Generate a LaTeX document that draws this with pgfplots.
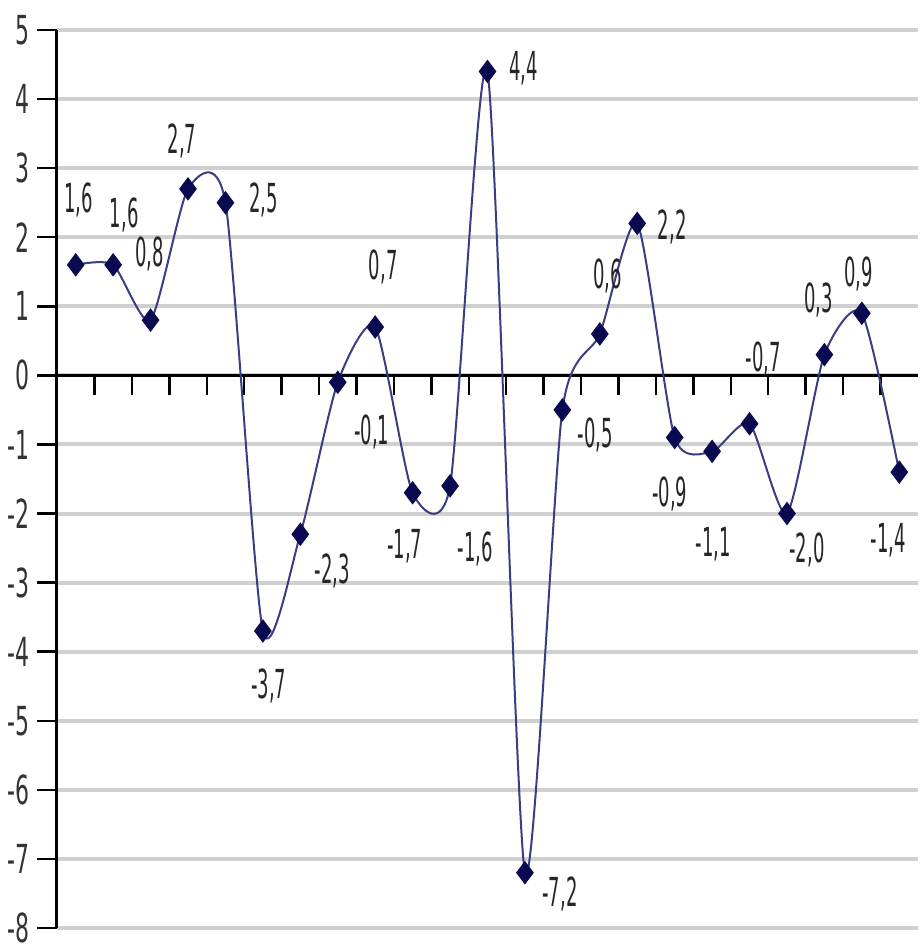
\documentclass[border=0pt]{standalone}
\usepackage{pgfplots}
\pgfplotsset{compat=1.18}
\usepackage{pgfplotstable}
\usepackage{fontspec}
\setmainfont{DejaVu Sans}
\newfontfamily\lblfont{DejaVu Sans}[FakeStretch=0.45]
\newfontfamily\tickfont{DejaVu Sans}[FakeStretch=0.55]

\definecolor{lineblue}{RGB}{60,60,130}
\definecolor{markblue}{RGB}{10,10,80}
\definecolor{gridgray}{RGB}{208,208,208}

% x, value, label offset (pt), label text
\pgfplotstableread{
x  y    dx    dy     lbl
1  1.6  1.5   32.5   1,6
2  1.6  5.5   25     1,6
3  0.8  -0.5  33     0,8
4  2.7  -3    24     2,7
5  2.5  19    1.5    2,5
6  -3.7 3     -27.5  -3,7
7  -2.3 16    -18.5  -2,3
8  -0.1 17    -25    -0,1
9  0.7  4     30     0,7
10 -1.7 -4    -26.5  -1,7
11 -1.6 12.5  -31.5  -1,6
12 4.4  18    1.5    4,4
13 -7.2 17.5  -10.5  -7,2
14 -0.5 16.5  -12.5  -0,5
15 0.6  4     29     0,6
16 2.2  17.5  -2     2,2
17 -0.9 -2.5  -28    -0,9
18 -1.1 0.5   -46.5  -1,1
19 -0.7 7     32.5   -0,7
20 -2.0 10    -18    -2,0
21 0.3  -3    27.5   0,3
22 0.9  -1.5  19.5   0,9
23 -1.4 -5.5  -34    -1,4
}\data

\begin{document}
\begin{tikzpicture}
\begin{axis}[
  scale only axis, width=430.5pt, height=449pt,
  xmin=0.5, xmax=23.5, ymin=-8, ymax=5,
  axis y line=left, axis x line=middle,
  axis line style={black, line width=1.5pt, -},
  xtick={1.5,2.5,...,22.5}, xticklabels={},
  ytick={-8,-7,...,5},
  yticklabels={-8,-7,-6,-5,-4,-3,-2,-1,0,1,2,3,4,5},
  ymajorgrids, grid style={gridgray, line width=2pt},
  tick style={black, line width=1.2pt},
  tick align=outside, major tick length=10pt,
  yticklabel style={font=\tickfont\fontsize{20}{20}\selectfont, text=black!80},
  clip=false,
]
\addplot[lineblue, line width=1pt, smooth, tension=0.4,
  mark=diamond*, mark size=5.5pt,
  mark options={fill=markblue, draw=markblue, line width=0.5pt},
  point meta=explicit symbolic,
  visualization depends on={\thisrow{dx} \as \dx},
  visualization depends on={\thisrow{dy} \as \dy},
  nodes near coords,
  every node near coord/.append style={anchor=center, xshift=\dx pt, yshift=\dy pt,
    font=\lblfont\fontsize{20}{20}\selectfont, text=black!85, inner sep=0pt},
] table[x=x, y=y, meta=lbl] {\data};
\end{axis}
\pgfresetboundingbox
\path[use as bounding box] ([xshift=-28.5pt,yshift=-8pt]current axis.south west) rectangle ++(461pt,472pt);
\end{tikzpicture}
\end{document}
